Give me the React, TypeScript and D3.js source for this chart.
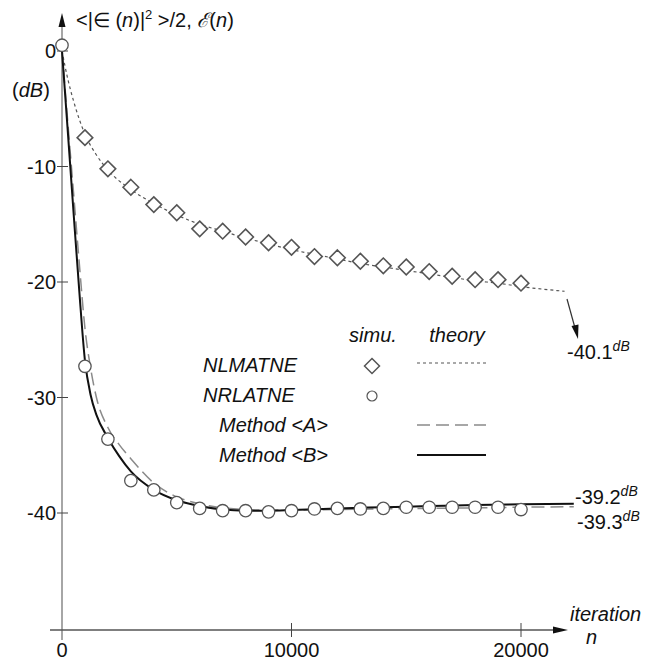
import React, { useEffect, useRef } from "react";
import * as d3 from "d3";

// axis ticks
const iterTicks = [0, 10000, 20000];
const dbTicks = [0, -10, -20, -30, -40];

// simulation points (dB)
const simuN = [
  1000, 2000, 3000, 4000, 5000, 6000, 7000, 8000, 9000, 10000, 11000, 12000,
  13000, 14000, 15000, 16000, 17000, 18000, 19000, 20000,
];
const nlmatneSimu = [
  -7.5, -10.2, -11.8, -13.3, -14.0, -15.4, -15.6, -16.1, -16.6, -17.0, -17.8,
  -17.9, -18.2, -18.6, -18.7, -19.1, -19.5, -19.8, -19.8, -20.1,
];
const nrlatneN = [
  0, 1000, 2000, 3000, 4000, 5000, 6000, 7000, 8000, 9000, 10000, 11000, 12000,
  13000, 14000, 15000, 16000, 17000, 18000, 19000, 20000,
];
const nrlatneSimu = [
  0.5, -27.3, -33.6, -37.2, -38.0, -39.1, -39.6, -39.8, -39.8, -39.9, -39.8,
  -39.65, -39.6, -39.65, -39.6, -39.5, -39.5, -39.5, -39.5, -39.5, -39.7,
];

// theory curves (dB)
const nlmatneTheoryN = [
  0, 250, 500, 1000, 1500, 2000, 3000, 4000, 5000, 6000, 7000, 8000, 9000,
  10000, 11000, 12000, 13000, 14000, 15000, 16000, 17000, 18000, 19000, 20000,
  21900,
];
const nlmatneTheory = [
  0, -2.4, -4.3, -7.2, -9.0, -10.3, -12.0, -13.2, -14.2, -15.0, -15.6, -16.2,
  -16.7, -17.2, -17.6, -18.0, -18.4, -18.7, -19.0, -19.3, -19.6, -19.9, -20.1,
  -20.4, -20.8,
];
const methodN = [
  0, 250, 500, 750, 1000, 1250, 1500, 2000, 2500, 3000, 4000, 5000, 6000, 7000,
  8000, 9000, 10000, 12000, 14000, 16000, 18000, 20000, 22300,
];
const methodA = [
  0, -6.1, -12.2, -18.3, -24.0, -27.5, -30.0, -32.6, -34.1, -35.3, -37.4, -38.6,
  -39.2, -39.55, -39.7, -39.75, -39.75, -39.7, -39.65, -39.6, -39.55, -39.5,
  -39.45,
];
const methodB = [
  0, -6.9, -13.9, -20.7, -26.8, -29.8, -31.5, -33.5, -35.1, -36.4, -38.0, -38.9,
  -39.4, -39.7, -39.8, -39.8, -39.75, -39.6, -39.5, -39.4, -39.3, -39.25, -39.2,
];

const legendNames = ["NLMATNE", "NRLATNE", "Method <A>", "Method <B>"];
const finalLevels = ["-40.1", "-39.2", "-39.3"];

const FONT = "'Liberation Sans', Arial, Helvetica, sans-serif";

const App = () => {
  const chartRef = useRef<SVGSVGElement>(null);

  useEffect(() => {
    const svg = d3.select(chartRef.current);
    svg.selectAll("*").remove();

    const x = d3.scaleLinear().domain([0, 20000]).range([62, 521]);
    const y = d3.scaleLinear().domain([0, -40]).range([51, 513]);
    const x0 = x(0);
    const yAxisPos = 630;

    const g = svg.append("g").attr("font-family", FONT).attr("fill", "#111");

    // y axis
    g.append("line")
      .attr("x1", x0)
      .attr("x2", x0)
      .attr("y1", 24)
      .attr("y2", 640)
      .attr("stroke", "#888")
      .attr("stroke-width", 1.5);
    g.append("path")
      .attr("d", `M${x0},13 L${x0 - 3.5},27 L${x0 + 3.5},27 Z`)
      .attr("fill", "#111");

    // x axis
    g.append("line")
      .attr("x1", 50)
      .attr("x2", 556)
      .attr("y1", yAxisPos)
      .attr("y2", yAxisPos)
      .attr("stroke", "#555")
      .attr("stroke-width", 1.3);
    g.append("path")
      .attr("d", `M568,${yAxisPos} L553,${yAxisPos - 3.5} L553,${yAxisPos + 3.5} Z`)
      .attr("fill", "#111");

    // y ticks
    dbTicks.forEach((d) => {
      g.append("line")
        .attr("x1", x0 - 5)
        .attr("x2", x0 + 6)
        .attr("y1", y(d))
        .attr("y2", y(d))
        .attr("stroke", "#444")
        .attr("stroke-width", 1);
      g.append("text")
        .attr("x", x0 - 6)
        .attr("y", y(d) + 7)
        .attr("text-anchor", "end")
        .attr("font-size", 20)
        .text(d);
    });

    // x ticks
    iterTicks.forEach((d) => {
      if (d !== 0) {
        g.append("line")
          .attr("x1", x(d))
          .attr("x2", x(d))
          .attr("y1", yAxisPos - 7)
          .attr("y2", yAxisPos + 7)
          .attr("stroke", "#444")
          .attr("stroke-width", 1);
      }
      g.append("text")
        .attr("x", x(d))
        .attr("y", 657)
        .attr("text-anchor", "middle")
        .attr("font-size", 20)
        .text(d);
    });

    // axis titles
    const title = g
      .append("text")
      .attr("x", 76)
      .attr("y", 27)
      .attr("font-size", 20);
    title.append("tspan").text("<|\u2208 (");
    title.append("tspan").attr("font-style", "italic").text("n");
    title.append("tspan").text(")|");
    title.append("tspan").attr("font-size", 13).attr("dy", -8).text("2");
    title.append("tspan").attr("dy", 8).text(" >/2, ");
    title.append("tspan").attr("font-style", "italic").text("\u2130");
    title.append("tspan").text("(");
    title.append("tspan").attr("font-style", "italic").text("n");
    title.append("tspan").text(")");

    const dbLabel = g.append("text").attr("x", 12).attr("y", 97).attr("font-size", 20);
    dbLabel.append("tspan").text("(");
    dbLabel.append("tspan").attr("font-style", "italic").text("dB");
    dbLabel.append("tspan").text(")");

    g.append("text")
      .attr("x", 570)
      .attr("y", 621)
      .attr("font-size", 20)
      .attr("font-style", "italic")
      .text("iteration");
    g.append("text")
      .attr("x", 586)
      .attr("y", 644)
      .attr("font-size", 20)
      .attr("font-style", "italic")
      .text("n");

    // theory curves
    const line = d3
      .line<[number, number]>()
      .x((d) => x(d[0]))
      .y((d) => y(d[1]))
      .curve(d3.curveMonotoneX);

    g.append("path")
      .datum(nlmatneTheoryN.map((n, i) => [n, nlmatneTheory[i]] as [number, number]))
      .attr("d", line)
      .attr("fill", "none")
      .attr("stroke", "#555")
      .attr("stroke-width", 1.2)
      .attr("stroke-dasharray", "3,3");

    g.append("path")
      .datum(methodN.map((n, i) => [n, methodA[i]] as [number, number]))
      .attr("d", line)
      .attr("fill", "none")
      .attr("stroke", "#8a8a8a")
      .attr("stroke-width", 1.5)
      .attr("stroke-dasharray", "13,6");

    g.append("path")
      .datum(methodN.map((n, i) => [n, methodB[i]] as [number, number]))
      .attr("d", line)
      .attr("fill", "none")
      .attr("stroke", "#111")
      .attr("stroke-width", 2);

    // simulation markers
    const diamond = (cx: number, cy: number, r: number) =>
      `M${cx},${cy - r} L${cx + r},${cy} L${cx},${cy + r} L${cx - r},${cy} Z`;

    simuN.forEach((n, i) => {
      g.append("path")
        .attr("d", diamond(x(n), y(nlmatneSimu[i]), 7.8))
        .attr("fill", "white")
        .attr("stroke", "#555")
        .attr("stroke-width", 1.6);
    });

    nrlatneN.forEach((n, i) => {
      g.append("circle")
        .attr("cx", x(n))
        .attr("cy", y(nrlatneSimu[i]))
        .attr("r", 6.2)
        .attr("fill", "white")
        .attr("stroke", "#555")
        .attr("stroke-width", 1.3);
    });

    // legend
    const lg = g.append("g").attr("font-size", 20).attr("font-style", "italic");
    lg.append("text").attr("x", 373).attr("y", 342).attr("text-anchor", "middle").text("simu.");
    lg.append("text").attr("x", 457).attr("y", 342).attr("text-anchor", "middle").text("theory");

    const rowY = [372, 402, 432, 462];
    const rowX = [203, 203, 219, 219];
    legendNames.forEach((name, i) => {
      lg.append("text").attr("x", rowX[i]).attr("y", rowY[i]).text(name);
    });
    lg.append("path")
      .attr("d", diamond(372, 366, 7.5))
      .attr("fill", "white")
      .attr("stroke", "#555")
      .attr("stroke-width", 1.5);
    lg.append("circle")
      .attr("cx", 372)
      .attr("cy", 396)
      .attr("r", 5)
      .attr("fill", "white")
      .attr("stroke", "#555")
      .attr("stroke-width", 1.2);
    lg.append("line")
      .attr("x1", 417).attr("x2", 486).attr("y1", 363).attr("y2", 363)
      .attr("stroke", "#555").attr("stroke-width", 1.2).attr("stroke-dasharray", "3,3");
    lg.append("line")
      .attr("x1", 417).attr("x2", 486).attr("y1", 425).attr("y2", 425)
      .attr("stroke", "#8a8a8a").attr("stroke-width", 1.5).attr("stroke-dasharray", "13,6");
    lg.append("line")
      .attr("x1", 417).attr("x2", 486).attr("y1", 455).attr("y2", 455)
      .attr("stroke", "#111").attr("stroke-width", 2);

    // final level annotations
    g.append("line")
      .attr("x1", 567).attr("y1", 299).attr("x2", 575).attr("y2", 328)
      .attr("stroke", "#333").attr("stroke-width", 1.2);
    g.append("path").attr("d", "M578,339 L571.5,326 L578.5,324.5 Z").attr("fill", "#111");

    const levelPos = [
      [567, 359],
      [575, 504],
      [577, 529],
    ];
    finalLevels.forEach((v, i) => {
      const t = g
        .append("text")
        .attr("x", levelPos[i][0])
        .attr("y", levelPos[i][1])
        .attr("font-size", 20);
      t.append("tspan").text(v);
      t.append("tspan")
        .attr("font-size", 14)
        .attr("font-style", "italic")
        .attr("dy", -8)
        .text("dB");
    });
  }, []);

  return (
    <svg
      ref={chartRef}
      width={654}
      height={662}
      style={{ position: "absolute", left: 0, top: 0, background: "white" }}
    ></svg>
  );
};

export default App;
